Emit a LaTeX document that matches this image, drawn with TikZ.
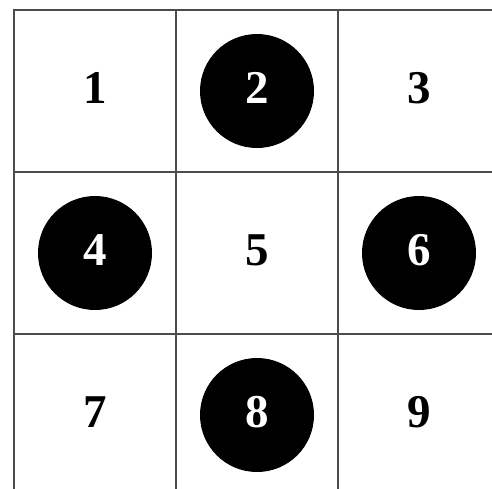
\documentclass[tikz,border=0pt]{standalone}
\usepackage{fontspec}
\setmainfont{Liberation Serif}
\begin{document}
\begin{tikzpicture}[x=1pt,y=-1pt,font=\fontsize{47}{47}\selectfont\bfseries,
		cell/.style={draw=black!70,line width=1.4pt,minimum size=162pt,inner sep=0pt},
		disc/.style={circle,fill=black,text=white,inner sep=0pt,text depth=6pt,minimum size=114pt}]
	\useasboundingbox (0,0) rectangle (492,488);
	\clip (0,0) rectangle (492,488);
	\foreach \r in {0,1,2}{
		\foreach \c in {0,1,2}{
			\pgfmathtruncatemacro{\k}{3*\r+\c+1}
			\node[cell] (c\k) at (95+\c*162,91+\r*162) {};
		}
	}
	\foreach \k in {1,3,5,7,9}{
		\node[yshift=3pt] (d\k) at (c\k) {\k};
	}
	\foreach \k in {2,4,6,8}{
		\node[disc] (d\k) at (c\k) {\k};
	}
\end{tikzpicture}
\end{document}
